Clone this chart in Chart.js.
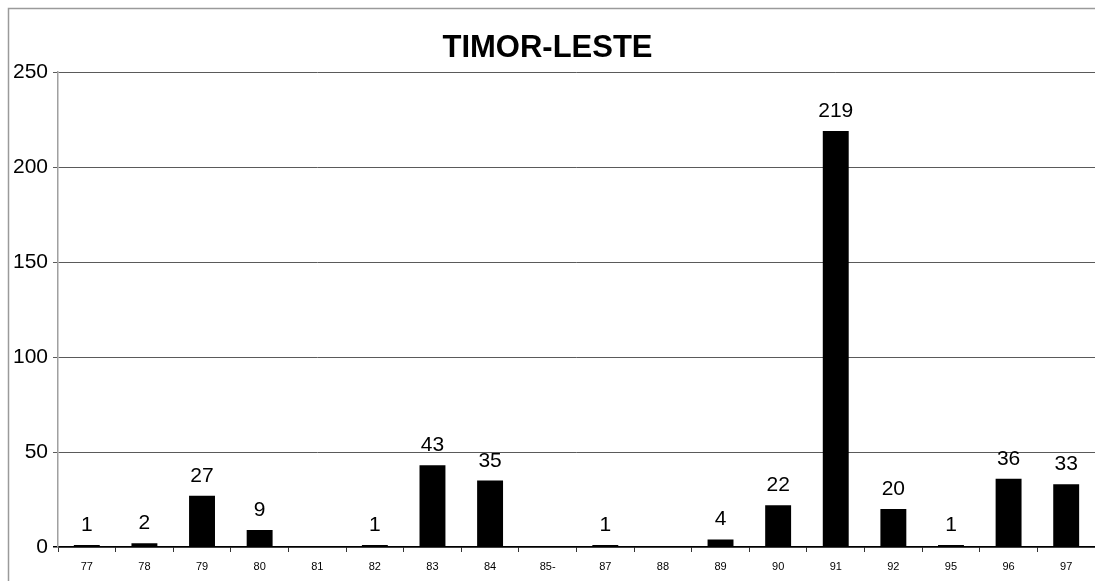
<!DOCTYPE html>
<html lang="en">
<head>
  <meta charset="UTF-8" />
  <title>TIMOR-LESTE</title>
  <script src="https://cdn.jsdelivr.net/npm/chart.js"></script>
  <style>
    html, body {
      margin: 0;
      padding: 0;
      background: #fff;
    }
    #wrap {
      position: relative;
      width: 1095px;
      height: 581px;
    }
  </style>
</head>
<body>
  <div id="wrap">
    <canvas id="chart" width="1095" height="581"></canvas>
  </div>

  <script>
    const years = ["77", "78", "79", "80", "81", "82", "83", "84", "85-", "87", "88", "89", "90", "91", "92", "95", "96", "97"];
    const counts = [1, 2, 27, 9, 0, 1, 43, 35, null, 1, null, 4, 22, 219, 20, 1, 36, 33];
    const yTicks = [0, 50, 100, 150, 200, 250];

    const FONT = "'Liberation Sans', Arial, sans-serif";

    // frame lines on the left and top of the picture
    const framePlugin = {
      id: "frame",
      beforeDraw(chart) {
        const ctx = chart.ctx;
        ctx.save();
        ctx.fillStyle = "#fff";
        ctx.fillRect(0, 0, chart.width, chart.height);
        ctx.strokeStyle = "#9a9a9a";
        ctx.lineWidth = 1.5;
        ctx.beginPath();
        ctx.moveTo(8.5, chart.height);
        ctx.lineTo(8.5, 8.5);
        ctx.lineTo(chart.width, 8.5);
        ctx.stroke();
        ctx.restore();
      }
    };

    // value labels above the bars
    const valueLabels = {
      id: "valueLabels",
      afterDatasetsDraw(chart) {
        const ctx = chart.ctx;
        const meta = chart.getDatasetMeta(0);
        ctx.save();
        ctx.font = "21px " + FONT;
        ctx.fillStyle = "#000";
        ctx.textAlign = "center";
        ctx.textBaseline = "alphabetic";
        meta.data.forEach((bar, i) => {
          const v = counts[i];
          if (v === null || v <= 0) return;
          ctx.fillText(String(v), bar.x, bar.y - 14);
        });
        ctx.restore();
      }
    };

    new Chart(document.getElementById("chart"), {
      type: "bar",
      data: {
        labels: years,
        datasets: [{
          data: counts,
          backgroundColor: "#000",
          borderWidth: 0,
          barPercentage: 0.45,
          categoryPercentage: 1
        }]
      },
      options: {
        responsive: false,
        animation: false,
        layout: { padding: 0 },
        plugins: {
          legend: { display: false },
          tooltip: { enabled: false },
          title: {
            display: true,
            text: "TIMOR-LESTE",
            color: "#000",
            font: { family: FONT, size: 31, weight: "bold" },
            padding: { top: 30, bottom: 5 }
          }
        },
        scales: {
          x: {
            grid: {
              drawOnChartArea: false,
              drawTicks: true,
              tickLength: 5,
              color: "#333"
            },
            border: { color: "#000", width: 1.5 },
            ticks: {
              color: "#000",
              font: { family: FONT, size: 11 },
              padding: 8,
              autoSkip: false,
              maxRotation: 0
            },
            afterFit: s => { s.height = 34; }
          },
          y: {
            min: 0,
            max: 250,
            afterBuildTicks: s => { s.ticks = yTicks.map(v => ({ value: v })); },
            grid: {
              color: c => (c.tick && c.tick.value === 0 ? "#000" : "#5a5a5a"),
              lineWidth: c => (c.tick && c.tick.value === 0 ? 1.5 : 1),
              tickLength: 5
            },
            border: { color: "#a0a0a0", width: 1.5 },
            ticks: {
              color: "#000",
              font: { family: FONT, size: 21 },
              padding: 5
            },
            afterFit: s => { s.width = 58; }
          }
        }
      },
      plugins: [framePlugin, valueLabels]
    });
  </script>
</body>
</html>
